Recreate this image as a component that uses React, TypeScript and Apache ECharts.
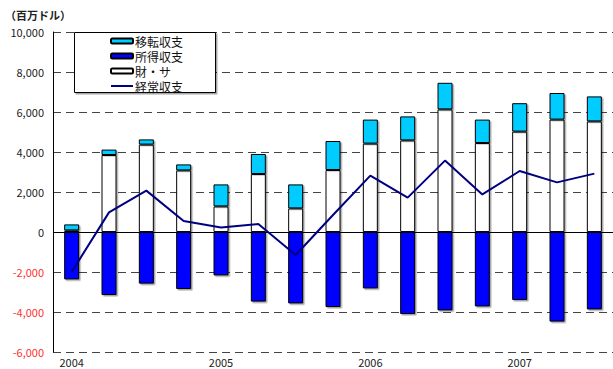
import React, { useEffect, useRef } from "react";
import * as echarts from "echarts";

const categories = ["2004", "", "", "", "2005", "", "", "", "2006", "", "", "", "2007", "", ""];
const goodsServices = [80, 3850, 4370, 3080, 1280, 2900, 1180, 3100, 4420, 4580, 6130, 4450, 5020, 5620, 5530];
const transfers = [300, 270, 260, 300, 1100, 1000, 1200, 1450, 1200, 1200, 1330, 1170, 1420, 1330, 1250];
const income = [-2370, -3150, -2580, -2850, -2170, -3480, -3570, -3750, -2820, -4100, -3920, -3720, -3400, -4480, -3870];
const currentAccount = [-2000, 980, 2070, 550, 220, 400, -1150, 850, 2820, 1720, 3570, 1880, 3050, 2480, 2920];
const legendNames = ["移転収支", "所得収支", "財・サ", "経常収支"];

const FONT = "'Noto Sans CJK JP', 'Noto Sans', sans-serif";

export default function App() {
  const ref = useRef<HTMLDivElement>(null);
  useEffect(() => {
    if (!ref.current) return;
    const chart = echarts.init(ref.current, null, { renderer: "svg" });
    const barShadow = { shadowColor: "rgba(0,0,0,0.35)", shadowOffsetX: 1.5, shadowOffsetY: 1.5, shadowBlur: 0 };
    chart.setOption({
      animation: false,
      backgroundColor: "#fff",
      textStyle: { fontFamily: FONT },
      title: {
        text: "（百万ドル）",
        left: 0,
        top: 4,
        textStyle: { fontSize: 11, fontWeight: "bold", color: "#222", fontFamily: FONT },
      },
      graphic: [
        {
          type: "rect",
          z: 10,
          shape: { x: 74.5, y: 32.5, width: 141, height: 60 },
          style: {
            fill: "#fff",
            stroke: "#000",
            lineWidth: 1,
            shadowColor: "rgba(0,0,0,0.35)",
            shadowOffsetX: 1.5,
            shadowOffsetY: 1.5,
            shadowBlur: 0,
          },
        },
      ],
      legend: {
        orient: "vertical",
        left: 110,
        top: 34,
        z: 20,
        data: legendNames.map((n) =>
          n === "経常収支" ? { name: n, icon: "path://M0,0 L22,0 L22,2 L0,2 Z" } : { name: n }
        ),
        itemWidth: 22,
        itemHeight: 5,
        itemGap: 1,
        padding: 0,
        textStyle: { fontSize: 12, lineHeight: 14, color: "#111", fontFamily: FONT, padding: [0, 0, 0, -3] },
      },
      grid: { left: 53, right: 0, top: 32, bottom: 17, containLabel: false },
      xAxis: {
        type: "category",
        data: categories,
        boundaryGap: true,
        axisLine: { show: false, onZero: false },
        axisTick: { show: false },
        axisLabel: { interval: 0, fontSize: 11, color: "#222", margin: 4, fontFamily: FONT },
        splitLine: { show: false },
      },
      yAxis: {
        type: "value",
        min: -6000,
        max: 10000,
        interval: 2000,
        axisLine: { show: true, lineStyle: { color: "#000", width: 1 } },
        axisTick: { show: false },
        axisLabel: {
          fontSize: 11,
          margin: 9,
          fontFamily: FONT,
          formatter: (v: number) => v.toLocaleString("en-US"),
          color: (v: any) => (Number(v) < 0 ? "#ff3030" : "#222"),
        },
        splitLine: { show: true, lineStyle: { color: "#444", type: [8, 5], width: 1 } },
      },
      series: [
        {
          name: "財・サ",
          type: "bar",
          stack: "bop",
          barWidth: 15,
          data: goodsServices,
          itemStyle: { color: "#fff", borderColor: "#000", borderWidth: 1, ...barShadow },
        },
        {
          name: "移転収支",
          type: "bar",
          stack: "bop",
          barWidth: 15,
          data: transfers,
          itemStyle: { color: "#00CCFF", borderColor: "#000", borderWidth: 1, ...barShadow },
        },
        {
          name: "所得収支",
          type: "bar",
          stack: "bop",
          barWidth: 15,
          data: income,
          itemStyle: { color: "#0000FF", borderColor: "#000", borderWidth: 1, ...barShadow },
        },
        {
          name: "経常収支",
          type: "line",
          data: currentAccount,
          symbol: "none",
          lineStyle: { color: "#000080", width: 2 },
          itemStyle: { color: "#000080" },
          z: 5,
          markLine: {
            silent: true,
            symbol: "none",
            label: { show: false },
            lineStyle: { color: "#000", type: "solid", width: 1 },
            data: [{ yAxis: 0 }],
          },
        },
      ],
    });
    return () => chart.dispose();
  }, []);
  return (
    <div
      ref={ref}
      style={{ position: "absolute", left: 0, top: 0, width: 613, height: 369 }}
    />
  );
}
